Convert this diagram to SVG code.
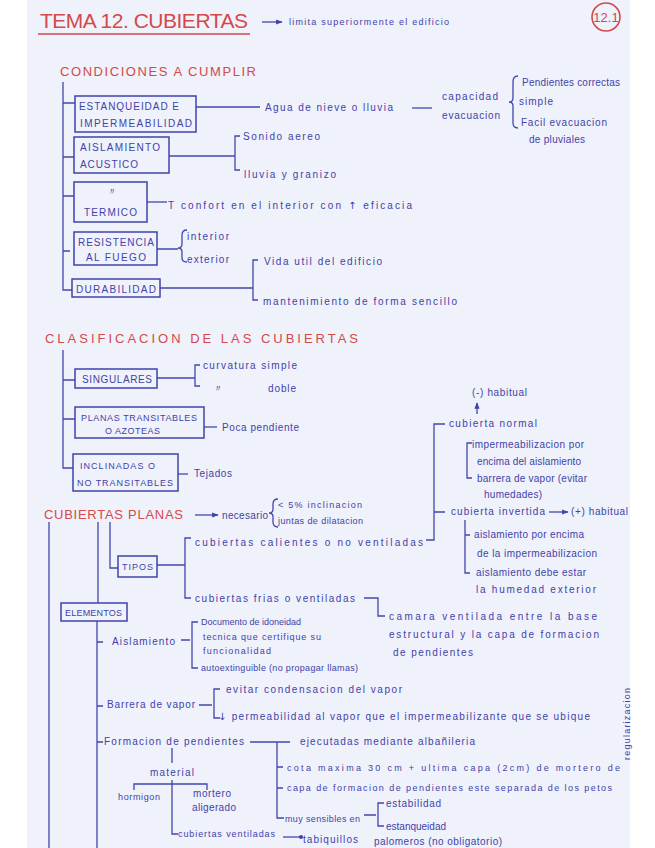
<svg xmlns="http://www.w3.org/2000/svg" width="655" height="848" viewBox="0 0 655 848">
<defs>
<style>
text{font-family:"Liberation Sans","DejaVu Sans",sans-serif;}
.t{fill:#3f43a8;font-size:10px;}
.s{fill:#3f43a8;font-size:9px;}
.u{fill:#3f43a8;font-size:10px;}
.r{fill:#d24a4a;font-size:13px;}
.ar{font-family:"DejaVu Sans",sans-serif;}
.bx{fill:none;stroke:#3f43a8;stroke-width:1.5;}
.ln{fill:none;stroke:#4347ad;stroke-width:1.3;}
</style>
<marker id="ah" viewBox="0 0 10 10" refX="9" refY="5" markerWidth="5" markerHeight="5" orient="auto"><path d="M0,1 L10,5 L0,9 z" fill="#3f43a8"/></marker>
<marker id="dot" viewBox="0 0 10 10" refX="5" refY="5" markerWidth="4" markerHeight="4"><circle cx="5" cy="5" r="4" fill="#3f43a8"/></marker>
</defs>
<rect x="0" y="0" width="655" height="848" fill="#ffffff"/>
<rect x="27" y="0" width="603" height="848" fill="#eff1fb"/>

<g id="title">
<text x="40" y="28" style="fill:#d24a4a;font-size:21px" textLength="208" lengthAdjust="spacing">TEMA 12. CUBIERTAS</text>
<line x1="38" y1="34" x2="250" y2="34" stroke="#d24a4a" stroke-width="1.6"/>
<text class="s" x="289" y="25" textLength="160" lengthAdjust="spacing">limita superiormente el edificio</text>
<circle cx="606" cy="17" r="14" fill="none" stroke="#d24a4a" stroke-width="1.6"/>
<text x="606" y="22" text-anchor="middle" style="fill:#d24a4a;font-size:13px">12.1</text>
</g>

<g id="connectors">
<line class="ln" x1="262" y1="22" x2="282" y2="22" marker-end="url(#ah)"/>
<path class="ln" d="M63,82 V290 H72 M63,103 H75 M63,157 H74 M63,196 H74 M63,251 H70"/>
<line class="ln" x1="196" y1="107" x2="260" y2="107"/>
<line class="ln" x1="412" y1="108" x2="432" y2="108"/>
<path class="ln" d="M518,76 Q513,76 513,82 V98 Q513,102 509,102 Q513,102 513,106 V123 Q513,128 518,128"/>
<path class="ln" d="M169,156 H235 M240,136 H235 V170 H240"/>
<line class="ln" x1="147" y1="202" x2="167" y2="202"/>
<path class="ln" d="M157,249 H178 M187,230 Q182,230 182,235 V244 Q182,248 178,248 Q182,248 182,252 V258 Q182,262 187,262"/>
<path class="ln" d="M160,288 H253 M258,260 H253 V300 H258"/>
<path class="ln" d="M63,350 V468 H73 M63,380 H75 M63,419 H75"/>
<path class="ln" d="M157,378 H195 M200,365 H195 V386 H200"/>
<line class="ln" x1="204" y1="427" x2="217" y2="427"/>
<line class="ln" x1="178" y1="474" x2="188" y2="474"/>
<line class="ln" x1="477" y1="414" x2="477" y2="403" marker-end="url(#ah)"/>
<path class="ln" d="M445,424 H434 V540 H426 M434,512 H445"/>
<path class="ln" d="M472,443 H467 V478 H472"/>
<line class="ln" x1="549" y1="512" x2="568" y2="512" marker-end="url(#ah)"/>
<path class="ln" d="M465,520 V573 H470 M465,535 H470"/>
<line class="ln" x1="195" y1="515" x2="218" y2="515" marker-end="url(#ah)"/>
<path class="ln" d="M278,499 Q273,499 273,504 V509 Q273,513 269,513 Q273,513 273,517 V522 Q273,527 278,527"/>
<path class="ln" d="M49,522 V848 M98,522 V603 M110,522 V568 H118"/>
<path class="ln" d="M157,565 H185 M191,538 H185 V598 H191"/>
<path class="ln" d="M364,598 H378 V616 H385"/>
<path class="ln" d="M97,621 V848 M97,642 H103 M97,706 H103 M97,742 H103"/>
<path class="ln" d="M181,640 H190 M198,622 H192 V668 H198"/>
<path class="ln" d="M199,705 H212 M220,689 H214 V718 H220"/>
<path class="ln" d="M250,742 H290 M277,742 V818 H284 M277,767 H283 M277,788 H283"/>
<path class="ln" d="M364,815 H376 M384,803 H378 V826 H384"/>
<path class="ln" d="M172,748 V763 M172,780 V834 H178 M134,790 V784 H207 V790"/>
<line class="ln" x1="283" y1="837" x2="301" y2="837" marker-end="url(#dot)"/>
</g>

<g id="condiciones">
<text class="r" x="60" y="76" textLength="196" lengthAdjust="spacing">CONDICIONES A CUMPLIR</text>
</g>
<g id="estanqueidad">
<rect class="bx" x="75" y="96" width="121" height="36"/>
<text class="u" x="79" y="110" textLength="100" lengthAdjust="spacing">ESTANQUEIDAD E</text>
<text class="u" x="80" y="127" textLength="112" lengthAdjust="spacing">IMPERMEABILIDAD</text>
</g>
<g id="agua">
<text class="t" x="265" y="111" textLength="128" lengthAdjust="spacing">Agua de nieve o lluvia</text>
<text class="t" x="442" y="100" textLength="56" lengthAdjust="spacing">capacidad</text>
<text class="t" x="442" y="119" textLength="58" lengthAdjust="spacing">evacuacion</text>
<text class="t" x="522" y="86" textLength="98" lengthAdjust="spacing">Pendientes correctas</text>
<text class="t" x="519" y="105" textLength="34" lengthAdjust="spacing">simple</text>
<text class="t" x="521" y="126" textLength="86" lengthAdjust="spacing">Facil evacuacion</text>
<text class="t" x="529" y="143" textLength="56" lengthAdjust="spacing">de pluviales</text>
</g>
<g id="acustico">
<rect class="bx" x="74" y="137" width="95" height="36"/>
<text class="u" x="80" y="151" textLength="80" lengthAdjust="spacing">AISLAMIENTO</text>
<text class="u" x="80" y="168" textLength="58" lengthAdjust="spacing">ACUSTICO</text>
<text class="t" x="243" y="140" textLength="77" lengthAdjust="spacing">Sonido aereo</text>
<text class="t" x="244" y="178" textLength="92" lengthAdjust="spacing">lluvia y granizo</text>
</g>
<g id="termico">
<rect class="bx" x="74" y="182" width="73" height="40"/>
<text class="u" x="107" y="195">〃</text>
<text class="u" x="84" y="216" textLength="53" lengthAdjust="spacing">TERMICO</text>
<text class="t" x="168" y="209" textLength="244" lengthAdjust="spacing">T confort en el interior con <tspan class="ar">↑</tspan> eficacia</text>
</g>
<g id="fuego">
<rect class="bx" x="74" y="232" width="83" height="33"/>
<text class="u" x="78" y="246" textLength="76" lengthAdjust="spacing">RESISTENCIA</text>
<text class="u" x="86" y="261" textLength="60" lengthAdjust="spacing">AL FUEGO</text>
<text class="t" x="187" y="240" textLength="42" lengthAdjust="spacing">interior</text>
<text class="t" x="187" y="263" textLength="42" lengthAdjust="spacing">exterior</text>
</g>
<g id="durabilidad">
<rect class="bx" x="72" y="279" width="88" height="18"/>
<text class="u" x="76" y="293" textLength="80" lengthAdjust="spacing">DURABILIDAD</text>
<text class="t" x="264" y="265" textLength="118" lengthAdjust="spacing">Vida util del edificio</text>
<text class="t" x="263" y="305" textLength="194" lengthAdjust="spacing">mantenimiento de forma sencillo</text>
</g>

<g id="clasificacion">
<text class="r" x="45" y="343" textLength="313" lengthAdjust="spacing">CLASIFICACION DE LAS CUBIERTAS</text>
</g>
<g id="singulares">
<rect class="bx" x="75" y="369" width="82" height="19"/>
<text class="u" x="82" y="383" textLength="70" lengthAdjust="spacing">SINGULARES</text>
<text class="t" x="203" y="369" textLength="94" lengthAdjust="spacing">curvatura simple</text>
<text class="t" x="213" y="392">〃</text>
<text class="t" x="268" y="392" textLength="28" lengthAdjust="spacing">doble</text>
</g>
<g id="planas">
<rect class="bx" x="75" y="407" width="129" height="31"/>
<text class="s" x="81" y="421" textLength="116" lengthAdjust="spacing">PLANAS TRANSITABLES</text>
<text class="s" x="105" y="434" textLength="55" lengthAdjust="spacing">O AZOTEAS</text>
<text class="t" x="222" y="431" textLength="77" lengthAdjust="spacing">Poca pendiente</text>
</g>
<g id="inclinadas">
<rect class="bx" x="73" y="454" width="105" height="37"/>
<text class="s" x="80" y="469" textLength="75" lengthAdjust="spacing">INCLINADAS O</text>
<text class="s" x="77" y="486" textLength="96" lengthAdjust="spacing">NO TRANSITABLES</text>
<text class="t" x="194" y="477" textLength="38" lengthAdjust="spacing">Tejados</text>
</g>

<g id="cubierta-normal">
<text class="t" x="472" y="396" textLength="55" lengthAdjust="spacing">(-) habitual</text>
<text class="t" x="449" y="427" textLength="88" lengthAdjust="spacing">cubierta normal</text>
<text class="t" x="472" y="448" textLength="112" lengthAdjust="spacing">impermeabilizacion por</text>
<text class="t" x="477" y="465" textLength="104" lengthAdjust="spacing">encima del aislamiento</text>
<text class="t" x="477" y="482" textLength="110" lengthAdjust="spacing">barrera de vapor (evitar</text>
<text class="t" x="484" y="498" textLength="58" lengthAdjust="spacing">humedades)</text>
</g>
<g id="cubierta-invertida">
<text class="t" x="451" y="515" textLength="94" lengthAdjust="spacing">cubierta invertida</text>
<text class="t" x="571" y="515" textLength="57" lengthAdjust="spacing">(+) habitual</text>
<text class="t" x="474" y="538" textLength="110" lengthAdjust="spacing">aislamiento por encima</text>
<text class="t" x="477" y="557" textLength="120" lengthAdjust="spacing">de la impermeabilizacion</text>
<text class="t" x="476" y="576" textLength="110" lengthAdjust="spacing">aislamiento debe estar</text>
<text class="t" x="476" y="593" textLength="120" lengthAdjust="spacing">la humedad exterior</text>
</g>

<g id="cubiertas-planas">
<text class="r" x="44" y="519" textLength="139" lengthAdjust="spacing">CUBIERTAS PLANAS</text>
<text class="t" x="222" y="519" textLength="46" lengthAdjust="spacing">necesario</text>
<text class="s" x="278" y="508" textLength="84" lengthAdjust="spacing">&lt; 5% inclinacion</text>
<text class="s" x="278" y="524" textLength="85" lengthAdjust="spacing">juntas de dilatacion</text>
</g>
<g id="tipos">
<rect class="bx" x="118" y="556" width="39" height="21"/>
<text class="s" x="122" y="570" textLength="31" lengthAdjust="spacing">TIPOS</text>
<text class="t" x="195" y="546" textLength="228" lengthAdjust="spacing">cubiertas calientes o no ventiladas</text>
<text class="t" x="195" y="602" textLength="160" lengthAdjust="spacing">cubiertas frias o ventiladas</text>
<text class="t" x="389" y="620" textLength="208" lengthAdjust="spacing">camara ventilada entre la base</text>
<text class="t" x="389" y="638" textLength="210" lengthAdjust="spacing">estructural y la capa de formacion</text>
<text class="t" x="393" y="656" textLength="80" lengthAdjust="spacing">de pendientes</text>
</g>
<g id="elementos">
<rect class="bx" x="61" y="603" width="66" height="18"/>
<text class="s" x="65" y="616" textLength="57" lengthAdjust="spacing">ELEMENTOS</text>
</g>
<g id="aislamiento">
<text class="t" x="112" y="645" textLength="63" lengthAdjust="spacing">Aislamiento</text>
<text class="s" x="201" y="625" textLength="100" lengthAdjust="spacing">Documento de idoneidad</text>
<text class="s" x="203" y="640" textLength="118" lengthAdjust="spacing">tecnica que certifique su</text>
<text class="s" x="203" y="654" textLength="68" lengthAdjust="spacing">funcionalidad</text>
<text class="s" x="201" y="671" textLength="157" lengthAdjust="spacing">autoextinguible (no propagar llamas)</text>
</g>
<g id="barrera">
<text class="t" x="107" y="708" textLength="88" lengthAdjust="spacing">Barrera de vapor</text>
<text class="t" x="226" y="693" textLength="176" lengthAdjust="spacing">evitar condensacion del vapor</text>
<text class="t" x="218" y="720" textLength="372" lengthAdjust="spacing"><tspan class="ar">↓</tspan> permeabilidad al vapor que el impermeabilizante que se ubique</text>
</g>
<g id="formacion">
<text class="t" x="104" y="745" textLength="140" lengthAdjust="spacing">Formacion de pendientes</text>
<text class="t" x="300" y="745" textLength="175" lengthAdjust="spacing">ejecutadas mediante albañileria</text>
<text class="s" x="287" y="771" textLength="333" lengthAdjust="spacing">cota maxima 30 cm + ultima capa (2cm) de mortero de</text>
<text class="s" transform="translate(630,760) rotate(-90)" x="0" y="0" textLength="72" lengthAdjust="spacing">regularizacion</text>
<text class="s" x="287" y="791" textLength="325" lengthAdjust="spacing">capa de formacion de pendientes este separada de los petos</text>
<text class="s" x="285" y="822" textLength="75" lengthAdjust="spacing">muy sensibles en</text>
<text class="t" x="386" y="807" textLength="55" lengthAdjust="spacing">estabilidad</text>
<text class="t" x="386" y="830" textLength="60" lengthAdjust="spacing">estanqueidad</text>
</g>
<g id="material">
<text class="t" x="150" y="776" textLength="44" lengthAdjust="spacing">material</text>
<text class="s" x="118" y="800" textLength="42" lengthAdjust="spacing">hormigon</text>
<text class="t" x="193" y="797" textLength="38" lengthAdjust="spacing">mortero</text>
<text class="t" x="192" y="811" textLength="44" lengthAdjust="spacing">aligerado</text>
</g>
<g id="ventiladas">
<text class="s" x="178" y="837" textLength="97" lengthAdjust="spacing">cubiertas ventiladas</text>
<text class="t" x="303" y="843" textLength="55" lengthAdjust="spacing">tabiquillos</text>
<text class="t" x="374" y="845" textLength="128" lengthAdjust="spacing">palomeros (no obligatorio)</text>
</g>
</svg>
